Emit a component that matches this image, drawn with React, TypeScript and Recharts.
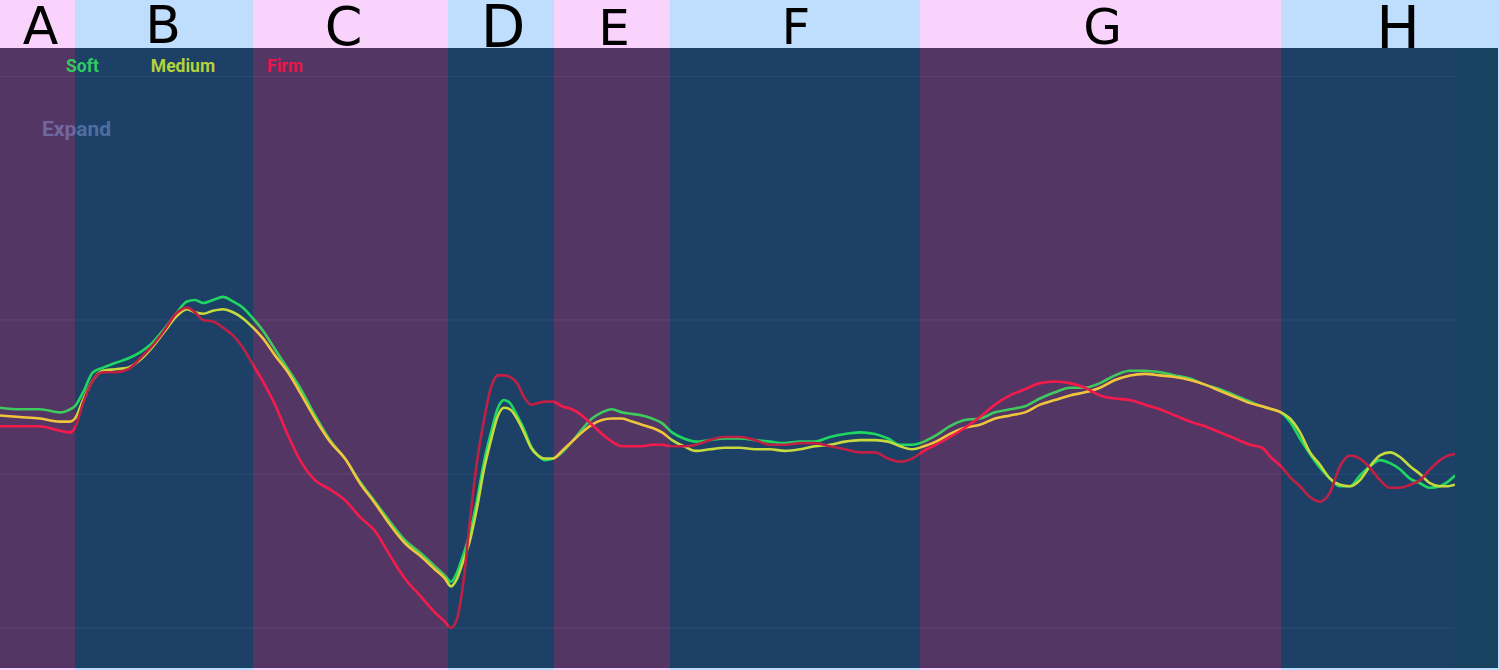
import {
  ComposedChart,
  Line,
  XAxis,
  YAxis,
  CartesianGrid,
  ReferenceArea,
  Legend,
} from "recharts";

/* ── data ─────────────────────────────────────────────────── */
const phases = ["A", "B", "C", "D", "E", "F", "G", "H"];
const phaseStart = [0, 75, 253, 448, 554, 670, 920, 1281];
const phaseEnd = 1455;

const time = [
  0, 20, 40, 60, 70, 75, 83, 93, 103, 115,
  128, 140, 152, 164, 176, 187, 195, 203, 213, 223,
  233, 243, 253, 263, 275, 288, 300, 315, 330, 345,
  360, 375, 390, 405, 420, 435, 445, 451, 457, 463,
  470, 477, 484, 491, 498, 504, 510, 517, 524, 531,
  538, 545, 553, 562, 572, 582, 592, 602, 612, 622,
  632, 642, 652, 662, 672, 684, 696, 710, 725, 740,
  755, 770, 785, 800, 815, 830, 845, 860, 875, 888,
  900, 912, 924, 936, 950, 965, 980, 995, 1010, 1025,
  1040, 1055, 1070, 1085, 1100, 1115, 1130, 1145, 1160, 1175,
  1190, 1205, 1220, 1235, 1250, 1262, 1272, 1281, 1290, 1300,
  1310, 1320, 1330, 1340, 1350, 1360, 1370, 1380, 1390, 1400,
  1410, 1420, 1430, 1440, 1448, 1455,
];

const soft = [
  43, 42, 42, 40, 42, 44, 53, 66, 69, 72,
  75, 79, 85, 94, 104, 112, 113, 111, 113, 115,
  112, 108, 101, 93, 81, 68, 56, 38, 22, 10,
  -5, -18, -31, -43, -51, -60, -66, -70, -64, -53,
  -38, -17, 8, 27, 43, 48, 46, 38, 29, 18,
  12, 9, 10, 14, 21, 29, 36, 40, 42, 40,
  39, 38, 36, 33, 27, 23, 21, 22, 23, 23,
  22, 21, 20, 21, 21, 24, 26, 27, 26, 23,
  19, 19, 21, 25, 31, 35, 36, 40, 42, 44,
  49, 53, 56, 56, 59, 64, 67, 67, 66, 64,
  62, 58, 55, 51, 47, 44, 42, 40, 34, 23,
  13, 4, -3, -8, -8, -1, 5, 9, 7, 3,
  -3, -6, -9, -8, -5, -1,
];

const medium = [
  38, 37, 36, 34, 34, 36, 48, 61, 67, 68,
  69, 74, 82, 92, 102, 107, 105, 104, 106, 107,
  105, 101, 95, 88, 77, 66, 53, 36, 21, 10,
  -6, -19, -33, -45, -53, -62, -68, -73, -68, -57,
  -43, -22, 3, 22, 38, 43, 42, 36, 27, 17,
  12, 10, 10, 15, 21, 27, 32, 35, 36, 36,
  34, 32, 30, 27, 22, 18, 15, 16, 17, 17,
  16, 16, 15, 16, 18, 19, 21, 22, 22, 21,
  18, 16, 18, 21, 26, 30, 32, 36, 38, 40,
  45, 48, 51, 53, 56, 61, 64, 65, 64, 63,
  61, 58, 54, 50, 46, 44, 42, 40, 36, 27,
  14, 6, -3, -7, -8, -4, 5, 12, 14, 11,
  5, 0, -6, -8, -8, -7,
];

const firm = [
  31, 31, 31, 28, 27, 30, 46, 61, 66, 66,
  68, 75, 83, 93, 104, 108, 105, 100, 99, 95,
  90, 82, 71, 60, 45, 25, 9, -4, -10, -17,
  -28, -37, -53, -68, -79, -90, -96, -100, -94, -72,
  -30, 8, 35, 56, 64, 64, 63, 59, 50, 45,
  46, 47, 47, 44, 42, 38, 32, 26, 21, 18,
  18, 18, 19, 19, 18, 18, 19, 22, 24, 24,
  22, 19, 19, 20, 20, 18, 16, 14, 14, 10,
  8, 10, 15, 19, 24, 30, 37, 45, 51, 55,
  59, 60, 59, 56, 51, 49, 48, 45, 42, 38,
  34, 31, 27, 23, 19, 17, 10, 5, -2, -8,
  -15, -18, -12, 5, 12, 10, 4, -4, -9, -9,
  -7, -4, 3, 9, 12, 13,
];

const gridValues = [-100, 0, 100, 258];
const yDomain = [-126, 276.6];

const seriesKeys = ["soft", "medium", "firm"];
const seriesNames = ["Soft", "Medium", "Firm"];

const rows = time.map((t, i) => ({
  t,
  soft: soft[i],
  medium: medium[i],
  firm: firm[i],
}));

/* ── styles ───────────────────────────────────────────────── */
const STRIP = ["#f9d3fb", "#bfdefd"];
const BAND = ["#543665", "#1c4066"];
const TAIL = "#174260";
const STRIP_H = 48;
const letterSize = [52, 52, 54, 58, 50, 50, 50, 58];
const letterBase = [44, 43, 45, 47, 45, 44, 44, 48];
const letterShift = [3, -1, -7, 2, 2, 1, 2, 0];

// [colour over purple band, colour over blue band]
const lineColors: Record<string, string[]> = {
  soft: ["#3ccb5c", "#1ed760"],
  medium: ["#f2c43c", "#c6d93d"],
  firm: ["#f41a4c", "#c21f45"],
};
const legendColors = ["#2ecc5e", "#b6d23a", "#e8174a"];

function bandShape(i: number) {
  return (p: any) => {
    const { x, y, width, height } = p;
    const last = i === phases.length - 1;
    const stripW = last ? width + 60 : width;
    return (
      <g>
        <rect
          x={x}
          y={y - STRIP_H}
          width={stripW}
          height={height + STRIP_H + 2}
          fill={STRIP[i % 2]}
        />
        <text
          x={x + stripW / 2 + letterShift[i]}
          y={y - STRIP_H + letterBase[i]}
          textAnchor="middle"
          fontFamily="DejaVu Sans"
          fontSize={letterSize[i]}
          fill="#000"
        >
          {phases[i]}
        </text>
        <rect x={x} y={y} width={width} height={height} fill={BAND[i % 2]} />
      </g>
    );
  };
}

function tailShape(p: any) {
  const { x, y, width, height } = p;
  return <rect x={x} y={y} width={width} height={height} fill={TAIL} />;
}

function LegendBox() {
  return (
    <div
      style={{
        position: "relative",
        display: "flex",
        gap: 52,
        fontFamily: "Roboto",
        fontWeight: 700,
        fontSize: 17.5,
        lineHeight: "17px",
        whiteSpace: "nowrap",
      }}
    >
      {seriesNames.map((n, i) => (
        <span key={n} style={{ color: legendColors[i] }}>
          {n}
        </span>
      ))}
      <span
        style={{
          position: "absolute",
          left: -24,
          top: 61,
          fontSize: 21,
          lineHeight: "21px",
          color: "#a0b8ff",
          opacity: 0.38,
        }}
      >
        Expand
      </span>
    </div>
  );
}

export default function App() {
  return (
    <div
      style={{
        position: "absolute",
        left: 0,
        top: 0,
        width: 1500,
        height: 670,
        overflow: "hidden",
        background: "#fff",
      }}
    >
      <ComposedChart
        width={1500}
        height={670}
        data={rows}
        margin={{ top: STRIP_H, right: 45, bottom: 2, left: 0 }}
      >
        <defs>
          {seriesKeys.map((k) => (
            <linearGradient
              key={k}
              id={`grad-${k}`}
              gradientUnits="userSpaceOnUse"
              x1={0}
              y1={0}
              x2={phaseEnd}
              y2={0}
            >
              {phaseStart.map((s, i) => {
                const e = i + 1 < phaseStart.length ? phaseStart[i + 1] : phaseEnd;
                const c = lineColors[k][i % 2];
                return [
                  <stop key={`a${i}`} offset={s / phaseEnd} stopColor={c} />,
                  <stop key={`b${i}`} offset={e / phaseEnd} stopColor={c} />,
                ];
              })}
            </linearGradient>
          ))}
        </defs>
        <XAxis
          type="number"
          dataKey="t"
          domain={[0, phaseEnd]}
          allowDataOverflow
          hide
        />
        <YAxis type="number" domain={yDomain} allowDataOverflow hide />
        {phases.map((ph, i) => (
          <ReferenceArea
            key={ph}
            x1={phaseStart[i]}
            x2={i + 1 < phaseStart.length ? phaseStart[i + 1] : phaseEnd}
            shape={bandShape(i)}
            ifOverflow="visible"
            zIndex={-300}
          />
        ))}
        <ReferenceArea
          x1={phaseEnd}
          x2={1498}
          shape={tailShape}
          ifOverflow="visible"
          zIndex={-300}
        />
        <CartesianGrid
          horizontal
          vertical={false}
          horizontalValues={gridValues}
          stroke="#ffffff"
          strokeOpacity={0.07}
          zIndex={-200}
        />
        <Legend
          layout="vertical"
          align="center"
          verticalAlign="middle"
          content={() => <LegendBox />}
          wrapperStyle={{ top: 58, left: 66, width: 400, height: 20 }}
        />
        {seriesKeys.map((k) => (
          <Line
            key={k}
            type="monotone"
            dataKey={k}
            stroke={`url(#grad-${k})`}
            strokeWidth={2.6}
            dot={false}
            activeDot={false}
            isAnimationActive={false}
          />
        ))}
      </ComposedChart>
    </div>
  );
}
